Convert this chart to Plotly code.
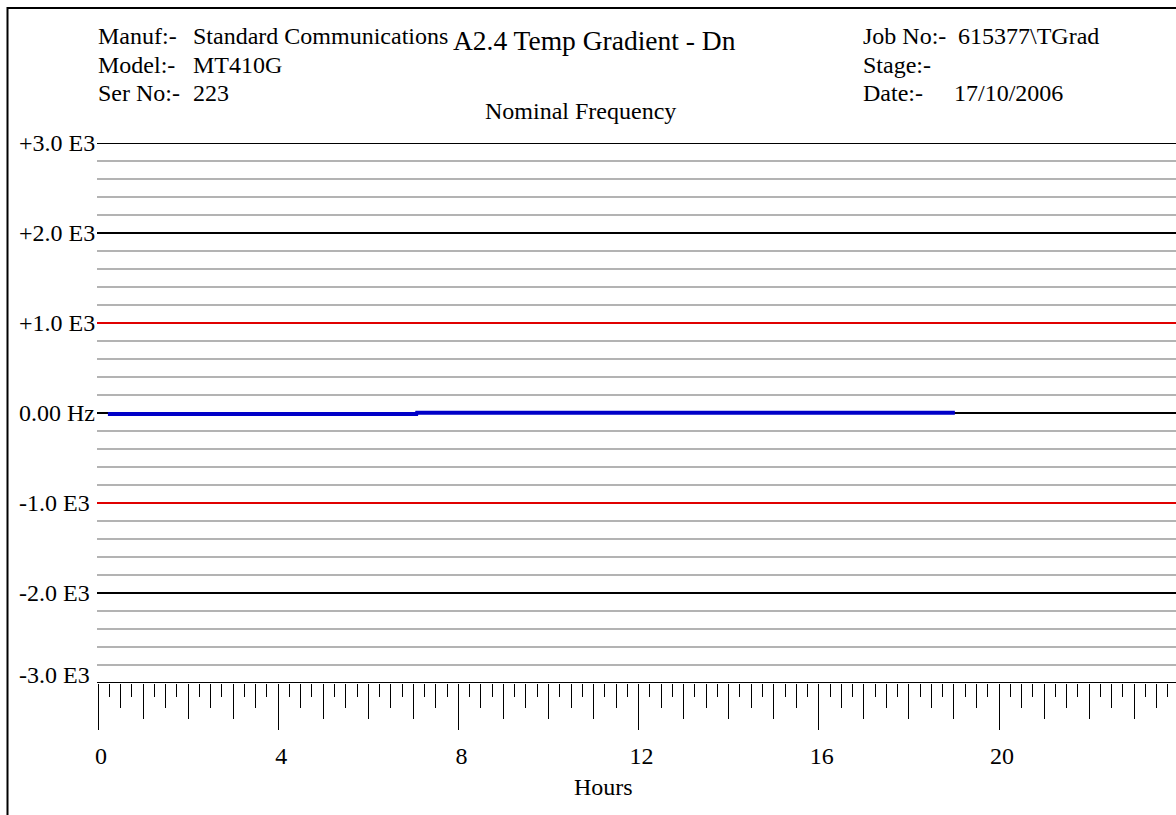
import numpy as np
import plotly.graph_objects as go

# ---- data -------------------------------------------------------------
hours = [0.22, 7.07, 7.08, 19.02]
freq_offset_hz = [-12, -12, 3, 3]

y_levels = [3000, 2000, 1000, 0, -1000, -2000, -3000]
y_labels = ["+3.0 E3", "+2.0 E3", "+1.0 E3", "0.00 Hz", "-1.0 E3", "-2.0 E3", "-3.0 E3"]
x_tick_vals = [0, 4, 8, 12, 16, 20]
x_tick_text = ["0", "4", "8", "12", "16", "20"]

header_left = [("Manuf:-", "Standard Communications"), ("Model:-", "MT410G"), ("Ser No:-", "223")]
header_right = [("Job No:-", "615377\\TGrad"), ("Stage:-", ""), ("Date:-", "17/10/2006")]
title_text = "A2.4 Temp Gradient - Dn"
subtitle_text = "Nominal Frequency"
x_title = "Hours"

# ---- geometry ---------------------------------------------------------
FIG_W, FIG_H = 1176, 815
PLOT_L, PLOT_T, PLOT_B = 98, 143, 683
PLOT_W = FIG_W - PLOT_L
PLOT_H = PLOT_B - PLOT_T
PX_PER_HOUR = 45.05
X_MAX = PLOT_W / PX_PER_HOUR

FONT = "Liberation Serif, Times New Roman, serif"
TXT = 24


def px_x(px):
    return (px - PLOT_L) / PLOT_W


def px_y(py):
    return (PLOT_B - py) / PLOT_H


fig = go.Figure()

fig.add_trace(go.Scatter(
    x=hours, y=freq_offset_hz, mode="lines",
    line=dict(color="#0000c8", width=4),
    hoverinfo="skip", showlegend=False, xaxis="x", yaxis="y",
))
# placeholder so the secondary (finer) tick axis gets drawn
fig.add_trace(go.Scatter(x=[None], y=[None], xaxis="x2", yaxis="y",
                         showlegend=False, hoverinfo="skip"))

shapes = []
# minor grey lines every 200 Hz
for lv in range(-3000, 3001, 200):
    if lv % 1000 != 0:
        shapes.append(dict(type="line", xref="paper", yref="y",
                           x0=px_x(97), x1=1.0, y0=lv, y1=lv,
                           line=dict(color="#9a9a9a", width=1.7), layer="below"))
# major lines: red limits at +/-1 kHz, black elsewhere
for lv in y_levels:
    col = "#e00000" if abs(lv) == 1000 else "#000000"
    shapes.append(dict(type="line", xref="paper", yref="y",
                       x0=px_x(97), x1=1.0, y0=lv, y1=lv,
                       line=dict(color=col, width=1.8), layer="below"))
# outer frame
shapes.append(dict(type="rect", xref="paper", yref="paper",
                   x0=px_x(7.5), x1=px_x(FIG_W + 20), y0=px_y(8), y1=px_y(FIG_H + 20),
                   line=dict(color="#000000", width=2), fillcolor="rgba(0,0,0,0)"))

annotations = []
for lv, lab in zip(y_levels, y_labels):
    annotations.append(dict(xref="paper", yref="y", x=px_x(17), y=lv,
                            xanchor="left", yanchor="middle", showarrow=False,
                            text=lab, font=dict(family=FONT, size=TXT, color="#000"),
                            yshift=8 if lv == -3000 else 0))

row_y = [36, 64.5, 93]
for (k, v), yy in zip(header_left, row_y):
    annotations.append(dict(xref="paper", yref="paper", x=px_x(96), y=px_y(yy),
                            xanchor="left", yanchor="middle", showarrow=False,
                            text=k, font=dict(family=FONT, size=TXT, color="#000")))
    annotations.append(dict(xref="paper", yref="paper", x=px_x(191), y=px_y(yy),
                            xanchor="left", yanchor="middle", showarrow=False,
                            text=v, font=dict(family=FONT, size=TXT, color="#000")))
for (k, v), yy, vx in zip(header_right, row_y, [956, 956, 952]):
    annotations.append(dict(xref="paper", yref="paper", x=px_x(861), y=px_y(yy),
                            xanchor="left", yanchor="middle", showarrow=False,
                            text=k, font=dict(family=FONT, size=TXT, color="#000")))
    if v:
        annotations.append(dict(xref="paper", yref="paper", x=px_x(vx), y=px_y(yy),
                                xanchor="left", yanchor="middle", showarrow=False,
                                text=v, font=dict(family=FONT, size=TXT, color="#000")))

annotations.append(dict(xref="paper", yref="paper", x=px_x(451), y=px_y(40.5),
                        xanchor="left", yanchor="middle", showarrow=False,
                        text=title_text, font=dict(family=FONT, size=27.5, color="#000")))
annotations.append(dict(xref="paper", yref="paper", x=px_x(483), y=px_y(111),
                        xanchor="left", yanchor="middle", showarrow=False,
                        text=subtitle_text, font=dict(family=FONT, size=TXT, color="#000")))
annotations.append(dict(xref="paper", yref="paper", x=px_x(603), y=px_y(787),
                        xanchor="center", yanchor="middle", showarrow=False,
                        text=x_title, font=dict(family=FONT, size=TXT, color="#000")))

tick_common = dict(range=[0, X_MAX], showgrid=False, zeroline=False, showline=False,
                   ticks="outside", tickcolor="#000", tickwidth=1.4, fixedrange=True)

fig.update_layout(
    width=FIG_W, height=FIG_H,
    margin=dict(l=PLOT_L, r=0, t=PLOT_T, b=FIG_H - PLOT_B, pad=0),
    paper_bgcolor="#ffffff", plot_bgcolor="#ffffff",
    showlegend=False,
    xaxis=dict(**tick_common, tickmode="array", tickvals=x_tick_vals, ticktext=x_tick_text,
               ticklen=46, tickfont=dict(family=FONT, size=TXT, color="#000"),
               ticklabelstandoff=5, ticklabelshift=3,
               minor=dict(dtick=1, tick0=0, ticklen=35, tickwidth=1.4,
                          tickcolor="#000", ticks="outside", showgrid=False)),
    xaxis2=dict(**tick_common, overlaying="x", anchor="y", side="bottom",
                dtick=0.5, tick0=0, ticklen=24, showticklabels=False,
                minor=dict(dtick=0.25, tick0=0, ticklen=13, tickwidth=1.4,
                           tickcolor="#000", ticks="outside", showgrid=False)),
    yaxis=dict(range=[-3000, 3000], showgrid=False, zeroline=False, showline=False,
               showticklabels=False, ticks="", fixedrange=True),
    shapes=shapes,
    annotations=annotations,
)

fig.write_html("out.html", config={"displayModeBar": False})
